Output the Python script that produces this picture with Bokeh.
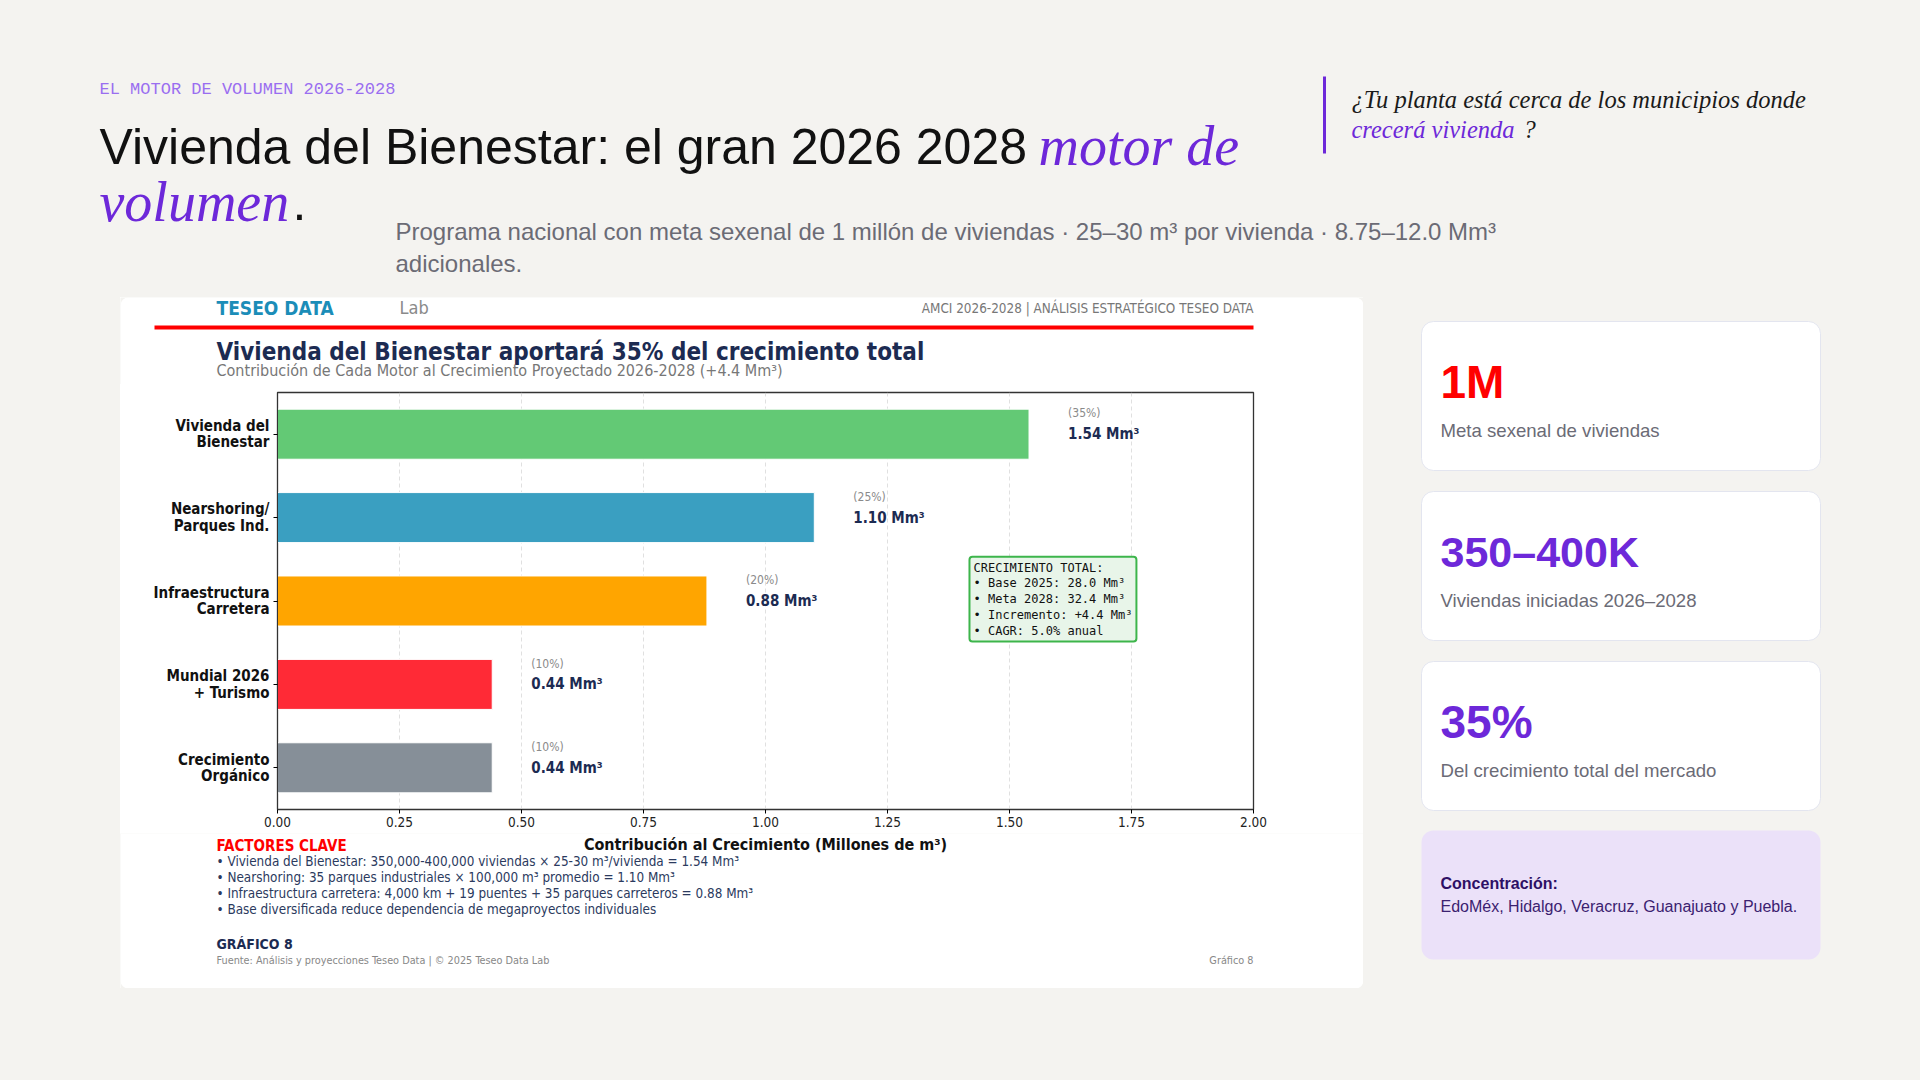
from bokeh.plotting import figure
from bokeh.models import Range1d, FixedTicker, PrintfTickFormatter, Label
from bokeh.layouts import column, row
from bokeh.core.properties import value
from bokeh.embed import file_html
from bokeh.resources import INLINE

# ---------------- data ----------------
categories = ["Vivienda del\nBienestar", "Nearshoring/\nParques Ind.", "Infraestructura\nCarretera",
              "Mundial 2026\n+ Turismo", "Crecimiento\nOrgánico"]
values = [1.54, 1.10, 0.88, 0.44, 0.44]
shares = [35, 25, 20, 10, 10]
bar_colors = ["#63c975", "#3a9fc1", "#ffa500", "#ff2a36", "#868f98"]
x_ticks = [0.0, 0.25, 0.5, 0.75, 1.0, 1.25, 1.5, 1.75, 2.0]
summary_lines = ["CRECIMIENTO TOTAL:", "• Base 2025: 28.0 Mm³", "• Meta 2028: 32.4 Mm³",
                 "• Incremento: +4.4 Mm³", "• CAGR: 5.0% anual"]
factor_lines = [
    "• Vivienda del Bienestar: 350,000-400,000 viviendas × 25-30 m³/vivienda = 1.54 Mm³",
    "• Nearshoring: 35 parques industriales × 100,000 m³ promedio = 1.10 Mm³",
    "• Infraestructura carretera: 4,000 km + 19 puentes + 35 parques carreteros = 0.88 Mm³",
    "• Base diversificada reduce dependencia de megaproyectos individuales",
]
card_values = ["1M", "350–400K", "35%"]
card_captions = ["Meta sexenal de viviendas", "Viviendas iniciadas 2026–2028", "Del crecimiento total del mercado"]
card_value_colors = ["#ff0000", "#6d28d9", "#6d28d9"]
concentration_title = "Concentración:"
concentration_text = "EdoMéx, Hidalgo, Veracruz, Guanajuato y Puebla."

kicker = "EL MOTOR DE VOLUMEN 2026-2028"
title_plain = "Vivienda del Bienestar: el gran 2026 2028"
title_italic_1 = "motor de"
title_italic_2 = "volumen"
subtitle_lines = ["Programa nacional con meta sexenal de 1 millón de viviendas · 25–30 m³ por vivienda · 8.75–12.0 Mm³",
                  "adicionales."]
quote_line_1 = "¿Tu planta está cerca de los municipios donde"
quote_hl = "crecerá vivienda"

chart_title = "Vivienda del Bienestar aportará 35% del crecimiento total"
chart_subtitle = "Contribución de Cada Motor al Crecimiento Proyectado 2026-2028 (+4.4 Mm³)"
x_label = "Contribución al Crecimiento (Millones de m³)"

# ---------------- styles ----------------
PAGE = "#f4f3f0"
PURPLE = "#6d28d9"
SANS = "Liberation Sans"
SERIF = "Liberation Serif"
MONO = "Liberation Mono"
CH = "DejaVu Sans Condensed, DejaVu Sans"
CHM = "DejaVu Sans Mono"
NAVY = "#1c2b52"


def canvas(w, h, bg=PAGE):
    p = figure(width=w, height=h, x_range=Range1d(0, w), y_range=Range1d(h, 0),
               output_backend="svg", toolbar_location=None, x_axis_type=None, y_axis_type=None,
               min_border=0, frame_align=False)
    p.outline_line_color = None
    p.background_fill_color = bg
    p.border_fill_color = bg
    p.grid.visible = False
    return p


def txt(p, x, y, s, size, color, font=SANS, style="normal", align="left", baseline="middle"):
    p.text(x=[x], y=[y], text=[s], text_font=value(font), text_font_size=f"{size}px",
           text_color=color, text_font_style=style, text_align=align, text_baseline=baseline)


# ---------------- header ----------------
hdr = canvas(1920, 297)
txt(hdr, 99, 89, kicker, 17, "#9a6ef0", MONO)
txt(hdr, 99, 146, title_plain, 50, "#111111")
txt(hdr, 1038, 145, title_italic_1, 56, PURPLE, SERIF, "italic")
txt(hdr, 99, 201, title_italic_2, 56, PURPLE, SERIF, "italic")
txt(hdr, 292, 202, ".", 50, "#111111")
txt(hdr, 395, 231, subtitle_lines[0], 24, "#6b6b75")
txt(hdr, 395, 263, subtitle_lines[1], 24, "#6b6b75")
hdr.segment(x0=[1324], y0=[76], x1=[1324], y1=[153], line_color=PURPLE, line_width=3)
txt(hdr, 1351, 99, quote_line_1, 24.5, "#1a1a1a", SERIF, "italic")
txt(hdr, 1351, 129, quote_hl, 24.5, PURPLE, SERIF, "italic")
txt(hdr, 1523, 129, "?", 24.5, "#1a1a1a", SERIF, "italic")

# ---------------- card top ----------------
CW = 1243
ctop = canvas(CW, 87)
ctop.quad(left=[0], right=[CW], top=[0], bottom=[120], fill_color="white",
          line_color=None, border_radius=8)
txt(ctop, 96, 10, "TESEO DATA", 19, "#1b8db8", CH, "bold")
txt(ctop, 279, 10, "Lab", 18, "#8a8a8a", CH)
txt(ctop, 1133, 11, "AMCI 2026-2028 | ANÁLISIS ESTRATÉGICO TESEO DATA", 13.4, "#777777", CH, align="right")
ctop.segment(x0=[34], y0=[30], x1=[1133], y1=[30], line_color="#ff0000", line_width=4)
txt(ctop, 96, 54, chart_title, 24, NAVY, CH, "bold")
txt(ctop, 96, 73, chart_subtitle, 16, "#777777", CH)

# ---------------- bar chart ----------------
idx = list(range(len(values)))
p = figure(width=CW, height=449, x_range=Range1d(0, 2.0), y_range=Range1d(4.5, -0.5),
           output_backend="svg", toolbar_location=None, frame_align=False)
p.min_border_left = 157
p.min_border_right = 110
p.min_border_top = 8
p.min_border_bottom = 24
p.background_fill_color = "white"
p.border_fill_color = "white"
p.outline_line_color = "#333333"
p.outline_line_width = 1.3

p.hbar(y=idx, left=0, right=values, height=0.6, fill_color=bar_colors, line_color="white", line_width=1)

p.text(x=[v + 0.08 for v in values], y=[i - 0.25 for i in idx], text=[f"({s}%)" for s in shares],
       text_font=value(CH), text_font_size="12px", text_color="#8a8a8a", text_baseline="middle")
p.text(x=[v + 0.08 for v in values], y=idx, text=[f"{v:.2f} Mm³" for v in values],
       text_font=value(CH), text_font_size="15px", text_font_style="bold", text_color=NAVY,
       text_baseline="middle")

box = Label(x=1.418, y=1.47, x_units="data", y_units="data", text="\n".join(summary_lines),
            text_font=CHM, text_font_size="12px", text_color="#111111", text_baseline="top",
            text_align="left", text_line_height=1.12,
            background_fill_color="#e8f5e9", background_fill_alpha=1.0,
            border_line_color="#3db54b", border_line_width=2, padding=4, border_radius=3)
p.add_layout(box)

p.xaxis.ticker = FixedTicker(ticks=x_ticks)
p.xaxis.formatter = PrintfTickFormatter(format="%.2f")
p.xaxis.major_label_text_font = CH
p.xaxis.major_label_text_font_size = "13.5px"
p.xaxis.major_label_text_color = "#222222"
p.xaxis.major_tick_out = 4
p.xaxis.major_tick_in = 0
p.xaxis.minor_tick_line_color = None
p.xaxis.major_label_standoff = 3
p.xaxis.axis_line_color = "#333333"

p.yaxis.ticker = FixedTicker(ticks=idx)
p.yaxis.major_label_overrides = {i: c for i, c in zip(idx, categories)}
p.yaxis.major_label_text_font = CH
p.yaxis.major_label_text_font_size = "15px"
p.yaxis.major_label_text_font_style = "bold"
p.yaxis.major_label_text_color = "#111111"
p.yaxis.major_label_text_line_height = 0.92
p.yaxis.major_tick_out = 4
p.yaxis.major_tick_in = 0
p.yaxis.minor_tick_line_color = None
p.yaxis.major_label_standoff = 4
p.yaxis.axis_line_color = "#333333"

p.xgrid.ticker = FixedTicker(ticks=x_ticks)
p.xgrid.grid_line_color = "#cccccc"
p.xgrid.grid_line_alpha = 0.6
p.xgrid.grid_line_dash = "4 3"
p.ygrid.visible = False

# ---------------- card footer ----------------
cfoot = canvas(CW, 155)
cfoot.quad(left=[0], right=[CW], top=[-40], bottom=[155], fill_color="white",
           line_color=None, border_radius=8)
txt(cfoot, 645, 11, x_label, 16, "#111111", CH, "bold", align="center")
txt(cfoot, 96, 12, "FACTORES CLAVE", 15, "#ff0000", CH, "bold")
for k, line in enumerate(factor_lines):
    txt(cfoot, 96, 28 + 16 * k, line, 13.4, "#2b3a5e", CH)
txt(cfoot, 96, 110, "GRÁFICO 8", 14, NAVY, CH, "bold")
txt(cfoot, 96, 127, "Fuente: Análisis y proyecciones Teseo Data | © 2025 Teseo Data Lab", 10.8, "#888888", CH)
txt(cfoot, 1133, 127, "Gráfico 8", 10.8, "#888888", CH, align="right")

card = column(ctop, p, cfoot, spacing=0, styles={"background-color": "white"})

# ---------------- side panels ----------------
left = canvas(120, 691)
right = canvas(557, 691)
card_tops = [24, 194, 364]
value_sizes = [46, 43, 46]
for k in range(3):
    t = card_tops[k]
    right.quad(left=[58], right=[457], top=[t], bottom=[t + 149], fill_color="white",
               line_color="#e3e5ef", line_width=1, border_radius=12)
    txt(right, 77, t + 60, card_values[k], value_sizes[k], card_value_colors[k], SANS, "bold")
    txt(right, 77, t + 109, card_captions[k], 18.6, "#6b6b76", SANS)
right.quad(left=[58], right=[457], top=[533], bottom=[662], fill_color="#ebe1f9",
           line_color=None, border_radius=12)
txt(right, 77, 586, concentration_title, 16, "#2e1065", SANS, "bold")
txt(right, 77, 609, concentration_text, 16, "#3b2170", SANS)

bottom = canvas(1920, 92)

layout = column(hdr, row(left, card, right, spacing=0, styles={"background-color": PAGE}), bottom,
                spacing=0, styles={"background-color": PAGE})

html = file_html(layout, INLINE)
html = html.replace("</head>", "<style>html,body{margin:0;padding:0;background:%s;}</style></head>" % PAGE, 1)
with open("out.html", "w") as f:
    f.write(html)
